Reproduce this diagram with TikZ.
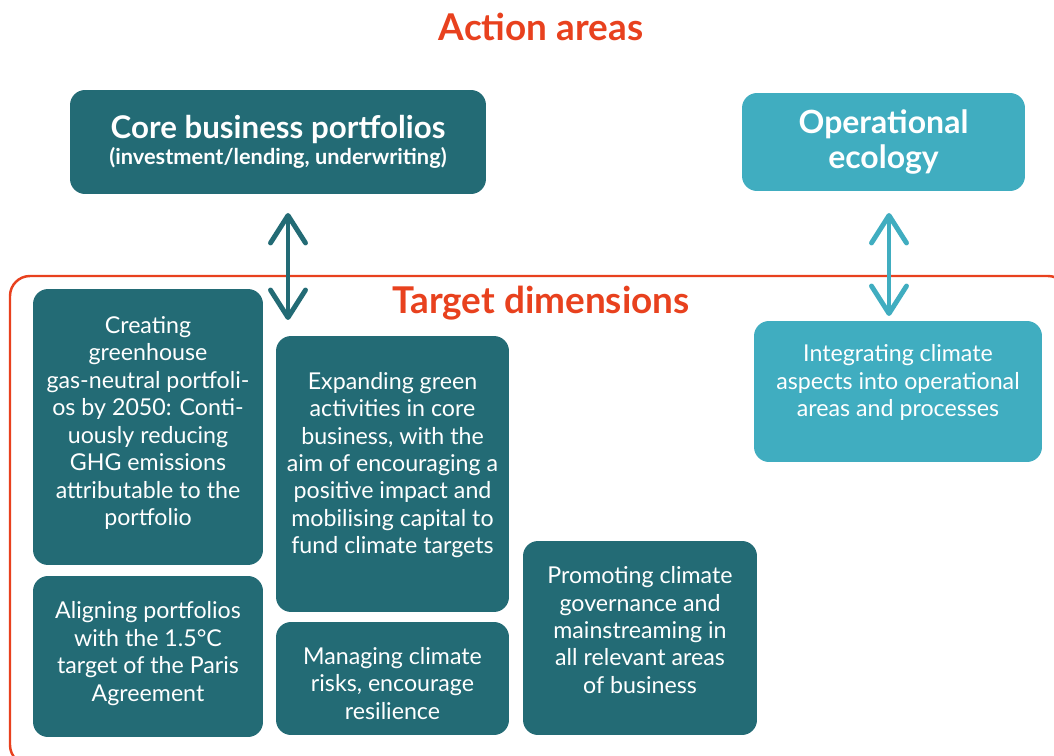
\documentclass[tikz,border=0pt]{standalone}
\usepackage{fontspec}
\setmainfont{Lato}
\usetikzlibrary{arrows.meta}
\definecolor{tealdark}{RGB}{35,107,117}
\definecolor{teallight}{RGB}{64,173,192}
\definecolor{redline}{RGB}{232,65,30}
\tikzset{
  box/.style={fill=#1, rounded corners=0.3cm, text=white, align=center, inner sep=0pt,
    font=\fontsize{13.2}{15.6}\selectfont},
  boxtext/.style={text=white, align=center, inner sep=0pt, font=\fontsize{13.2}{15.6}\selectfont},
  heading/.style={text=redline, font=\fontsize{21}{24}\selectfont\bfseries},
  twoway/.style={draw=#1, line width=2.8pt, line cap=round,
    {Straight Barb[length=5.5mm,width=7mm,round]}-{Straight Barb[length=5.5mm,width=7mm,round]}}
}
\begin{document}
\begin{tikzpicture}[x=0.02cm,y=-0.02cm]
  \useasboundingbox (0,0) rectangle (1054,756);
  \clip (0,0) rectangle (1054,756);
  % action areas
  \node[heading] (areas) at (541,27) {Action areas};
  \node[box=tealdark, minimum width=8.32cm, minimum height=2.08cm] (core) at (278,142)
    {{\fontsize{17.8}{20}\selectfont\bfseries Core business portfolios}\\[-1pt]
     {\fontsize{12.4}{15}\selectfont\bfseries (investment/lending, underwriting)}};
  \node[box=teallight, minimum width=5.66cm, minimum height=1.96cm,
    font=\fontsize{18.2}{20.4}\selectfont\bfseries] (ops) at (883.5,142)
    {Operational\\ecology};
  % target dimensions frame
  \draw[redline, line width=1.4pt, rounded corners=0.4cm] (10,276) rectangle (1068,765);
  \node[heading] (dims) at (541,303) {Target dimensions};
  % arrows between the two levels
  \coordinate (core-end) at (288,213);
  \coordinate (dims-end) at (288,320);
  \coordinate (ops-end) at (889,213);
  \coordinate (proc-end) at (889,316);
  \draw[twoway=tealdark] (core-end) -- (dims-end);
  \draw[twoway=teallight] (ops-end) -- (proc-end);
  % target boxes, text set a bit above the middle
  \node[box=tealdark, minimum width=4.6cm, minimum height=5.52cm] (neutral) at (148,427) {};
  \node[boxtext] (neutral-txt) at (148,423)
    {Creating\\greenhouse\\gas-neutral portfoli-\\os by 2050: Conti-\\uously reducing\\GHG emissions\\attributable to the\\portfolio};
  \node[box=tealdark, minimum width=4.6cm, minimum height=3.22cm] (paris) at (148,656.5) {};
  \node[boxtext] (paris-txt) at (148,653.5)
    {Aligning portfolios\\with the 1.5°C\\target of the Paris\\Agreement};
  \node[box=tealdark, minimum width=4.66cm, minimum height=5.52cm] (green) at (392.5,474) {};
  \node[boxtext] (green-txt) at (392.5,465)
    {Expanding green\\activities in core\\business, with the\\aim of encouraging a\\positive impact and\\mobilising capital to\\fund climate targets};
  \node[box=tealdark, minimum width=4.66cm, minimum height=2.26cm] (risks) at (392.5,678.5) {};
  \node[boxtext] (risks-txt) at (392.5,683.5)
    {Managing climate\\risks, encourage\\resilience};
  \node[box=tealdark, minimum width=4.68cm, minimum height=3.88cm] (gov) at (640,638) {};
  \node[boxtext] (gov-txt) at (640,630)
    {Promoting climate\\governance and\\mainstreaming in\\all relevant areas\\of business};
  \node[box=teallight, minimum width=5.76cm, minimum height=2.82cm] (proc) at (898,391.5) {};
  \node[boxtext] (proc-txt) at (898,382.5)
    {Integrating climate\\aspects into operational\\areas and processes};
\end{tikzpicture}
\end{document}
